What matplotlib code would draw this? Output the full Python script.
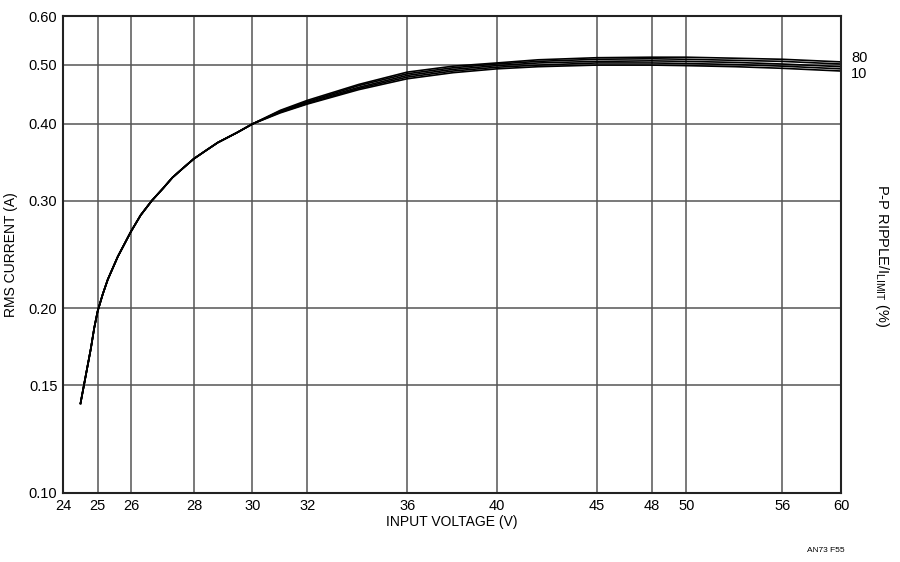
import matplotlib
matplotlib.use("Agg")
import matplotlib.pyplot as plt
from matplotlib.ticker import FixedLocator, NullLocator

plt.rcParams['font.family'] = ['Liberation Sans', 'DejaVu Sans']

# shared low-voltage part (all ripple curves coincide here)
v_low = [24.5, 24.6, 24.8, 24.9, 25.0, 25.15, 25.3, 25.6, 26.0, 26.3, 26.65, 27.0, 27.3, 27.65, 28.0, 28.4, 28.8, 29.45, 30.0]
i_low = [0.140, 0.150, 0.172, 0.186, 0.198, 0.211, 0.223, 0.243, 0.267, 0.284, 0.300, 0.314, 0.327, 0.339, 0.351, 0.362, 0.373, 0.387, 0.400]

# high-voltage part, one list per P-P ripple / ILIMIT (%)
v_high = [31, 32, 34, 36, 38, 40, 42, 45, 48, 50, 53, 56, 60]
ripple = [10, 20, 40, 60, 80]
i_high = {
    10: [0.417, 0.431, 0.455, 0.474, 0.485, 0.492, 0.496, 0.499, 0.499, 0.498, 0.496, 0.493, 0.488],
    20: [0.418, 0.432, 0.457, 0.477, 0.488, 0.495, 0.499, 0.503, 0.503, 0.502, 0.500, 0.497, 0.492],
    40: [0.419, 0.434, 0.459, 0.480, 0.491, 0.498, 0.503, 0.506, 0.507, 0.506, 0.504, 0.501, 0.496],
    60: [0.420, 0.435, 0.462, 0.483, 0.494, 0.501, 0.506, 0.510, 0.511, 0.510, 0.508, 0.506, 0.501],
    80: [0.421, 0.437, 0.464, 0.486, 0.497, 0.503, 0.509, 0.513, 0.514, 0.514, 0.512, 0.510, 0.505],
}

x_ticks = [24, 25, 26, 28, 30, 32, 36, 40, 45, 48, 50, 56, 60]
y_ticks = [0.10, 0.15, 0.20, 0.30, 0.40, 0.50, 0.60]

fig = plt.figure(figsize=(9, 5.62), dpi=100)
ax = fig.add_axes([0.07, 0.1228, 0.8644, 0.8487])

for r in ripple:
    ax.plot(v_low + v_high, i_low + i_high[r], color='black', lw=1.2)

ax.set_xscale('log')
ax.set_yscale('log')
ax.set_xlim(24, 60)
ax.set_ylim(0.10, 0.60)

ax.xaxis.set_major_locator(FixedLocator(x_ticks))
ax.xaxis.set_minor_locator(NullLocator())
ax.yaxis.set_major_locator(FixedLocator(y_ticks))
ax.yaxis.set_minor_locator(NullLocator())
ax.set_xticklabels([str(t) for t in x_ticks])
ax.set_yticklabels(['%.2f' % t for t in y_ticks])
ax.tick_params(length=0, labelsize=10.5, pad=4)

ax.grid(True, color='#555555', lw=1.1)
for s in ax.spines.values():
    s.set_linewidth(1.5)
    s.set_color('#222222')

ax.set_xlabel('INPUT VOLTAGE (V)', fontsize=10, labelpad=2)
ax.set_ylabel('RMS CURRENT (A)', fontsize=10, labelpad=8)

# right-hand labels
ax.text(1.013, i_high[80][-1] + 0.008, '80', transform=ax.get_yaxis_transform(),
        fontsize=10.5, va='center', ha='left')
ax.text(1.013, i_high[10][-1] - 0.006, '10', transform=ax.get_yaxis_transform(),
        fontsize=10.5, va='center', ha='left')
fig.text(0.98, 0.545, 'P-P RIPPLE/I$_{\\mathregular{LIMIT}}$ (%)', rotation=270,
         fontsize=10.5, va='center', ha='center')

fig.text(0.918, 0.02, 'AN73 F55', fontsize=6, ha='center', va='center')

fig.savefig('out.png', dpi=100)
